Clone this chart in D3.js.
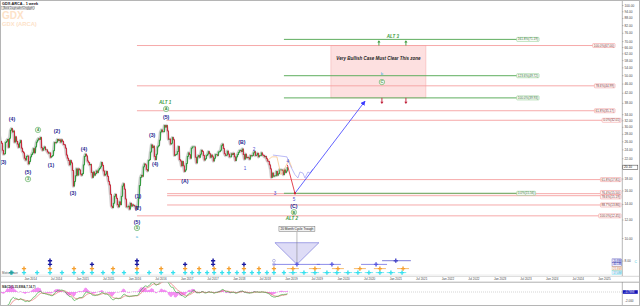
<!DOCTYPE html>
<html><head><meta charset="utf-8">
<script src="https://cdn.jsdelivr.net/npm/d3@7"></script>
<style>html,body{margin:0;padding:0;background:#fff;}svg{display:block;font-family:"Liberation Sans",Arial,sans-serif;}</style>
</head><body><svg id="c" width="640" height="306"></svg>
<script>
// ---------------- DATA ----------------
const firstWeek = "2013-01-18";
const close2013 = [43.5,42.0,42.0,41.0,39.5,38.5,37.5,37.5,38.0,37.5,36.5,35.0,31.5,28.5,29.5,29.0,27.0,25.5,27.0,27.5,
  26.0,25.5,23.8,22.9,23.0,25.7,26.0,26.5,24.5,26.8,29.0,29.5,28.5,28.8,25.8,27.2,26.0,25.3,24.5,25.6,26.2,24.3,23.5,23.2,22.0,21.6,22.4,22.5,20.8,21.3];
const close2014 = [22.3,22.8,23.2,24.2,23.2, 24.6,25.8,26.3,26.7, 26.5,27.0,24.4,23.8, 24.3,24.6,23.9,23.9, 23.4,23.1,23.2,22.2,22.4,
  22.6,23.7,25.7,25.6, 25.8,26.5,26.2,26.4, 25.8,26.4,26.0,25.2,25.1, 24.3,22.7,22.0,21.5, 20.6,21.5,21.0,19.5,16.7, 17.5,18.5,19.8,18.6, 19.8,19.6,18.8,18.6];
const close2015 = [18.9,20.6,22.4,22.9,22.5, 21.4,21.1,20.6,20.7, 19.1,18.2,19.2,18.6, 18.9,19.4,19.1,19.6, 19.9,20.2,21.1,20.5,19.4,
  18.6,18.8,19.3,18.4, 17.5,16.9,15.4,13.7,13.5, 14.1,15.1,15.4,14.8, 13.9,13.6,14.3,13.9, 15.1,16.7,17.1,16.2,14.7, 13.6,13.6,13.7,13.3, 14.1,13.7,13.9,13.8];
const close2016 = [13.7,13.7,13.3,13.6,14.8, 16.8,18.2,18.6,18.4, 20.2,20.8,20.6,19.7, 19.4,21.5,21.7,23.4,25.1, 24.4,24.8,22.4,21.7,
  22.9,24.6,24.9,26.3, 28.5,29.1,28.6,28.6,30.4, 29.9,30.4,28.8,26.5, 26.6,25.3,25.5,27.0,26.4, 22.6,22.8,22.9,23.5, 24.7,21.7,21.4,20.4, 21.3,20.4,19.3,19.6,20.9];
const close2017 = [22.4,23.2,22.8,22.0, 24.3,24.6,24.6,24.6, 22.2,21.0,22.3,22.6,22.2, 22.9,23.8,23.5,22.6, 21.6,21.9,22.6,22.9,
  23.5,23.0,22.2,22.7,22.3, 21.4,22.0,22.8,22.8, 22.6,23.4,23.5,23.8, 24.9,25.3,24.2,23.0,22.6, 22.7,23.6,22.9,22.3, 22.3,23.0,22.8,23.1, 22.3,21.5,22.3,22.8,23.3];
const close2018 = [23.7,23.8,23.5,24.1, 22.8,21.8,22.9,22.1, 22.2,22.1,21.8,22.6,22.5, 22.6,23.2,23.5,22.6, 22.7,23.1,22.3,22.6,
  22.6,23.2,22.7,22.6,22.3, 22.4,21.9,21.4,21.3, 20.6,19.8,18.2,19.0,18.4, 18.5,18.5,19.3,18.6, 18.9,19.6,19.6,19.6, 19.5,18.7,19.6,19.1,19.4, 20.1];

const priceTicks = [100,94,88,82,76,70,66,62,58,54,50,46,42,38,34,32,30,28,26,24,22,18,16,14,12,10,8];
const dateTicks = ["2014-01-01","2014-07-01","2015-01-01","2015-07-01","2016-01-01","2016-07-01","2017-01-01","2017-07-01",
  "2018-01-01","2018-07-01","2019-01-01","2019-07-01","2020-01-01","2020-07-01","2021-01-01","2021-07-01","2022-01-01",
  "2022-07-01","2023-01-01","2023-07-01","2024-01-01","2024-07-01","2025-01-01"];
const macdTickLabel = "-2.000";

const pinkLevels = [
  {label:"100.0%(67.00)", price:67.00, from:"2016-01-19"},
  {label:"78.6%(44.99)",  price:44.99, from:"2016-01-19"},
  {label:"61.8%(35.17)",  price:35.17, from:"2016-01-19"},
  {label:"0.0%(32.01)",   price:32.01, from:"2016-08-12"},
  {label:"61.8%(17.81)",  price:17.81, from:"2016-08-17"},
  {label:"76.4%(15.50)",  price:15.50, from:"2016-08-17"},
  {label:"78.6%(15.19)",  price:15.19, from:"2016-08-17"},
  {label:"88.7%(13.86)",  price:13.86, from:"2016-08-17"},
  {label:"100.0%(12.45)", price:12.45, from:"2016-01-19"}
];
const greenLevels = [
  {label:"161.8%(71.19)", price:71.19},
  {label:"123.6%(49.72)", price:49.72},
  {label:"100.0%(39.93)", price:39.93},
  {label:"0.0%(15.56)",   price:15.56}
];
const greenFrom = "2018-11-13", greenTo = "2023-05-01";

const zone = {from:"2019-10-08", to:"2021-08-03", low:39.93, high:67.00, text:"Very Bullish Case Must Clear This zone", textPrice:59.2};
const upArrows = ["2020-09-08","2021-03-16"];
const downArrows = ["2020-09-29","2021-03-16"];

const waveLabels = [
  {t:"(3)", d:"2013-06-26", p:21.2, k:"paren"},
  {t:"(4)", d:"2013-08-27", p:32.4, k:"paren"},
  {t:"(5)", d:"2013-12-17", p:19.2, k:"paren"},
  {t:"3",   d:"2013-12-17", p:17.9, k:"circle"},
  {t:"4",   d:"2014-02-25", p:29.1, k:"circle"},
  {t:"(2)", d:"2014-07-08", p:28.8, k:"paren"},
  {t:"(1)", d:"2014-05-27", p:20.6, k:"paren"},
  {t:"(4)", d:"2015-01-13", p:24.1, k:"paren"},
  {t:"(3)", d:"2014-10-28", p:15.6, k:"paren"},
  {t:"(1)", d:"2016-01-26", p:15.15, k:"paren"},
  {t:"(2)", d:"2016-01-26", p:13.45, k:"paren"},
  {t:"(5)", d:"2016-01-19", p:11.72, k:"paren"},
  {t:"5",   d:"2016-01-19", p:11.04, k:"circle"},
  {t:"a",   d:"2016-01-19", p:10.2, k:"tiny"},
  {t:"(3)", d:"2016-05-04", p:27.7, k:"paren"},
  {t:"(4)", d:"2016-05-25", p:20.8, k:"paren"},
  {t:"(5)", d:"2016-08-10", p:33.1, k:"paren"},
  {t:"A",   d:"2016-08-10", p:35.8, k:"circle"},
  {t:"ALT 1", d:"2016-08-03", p:38.3, k:"alt"},
  {t:"(A)", d:"2016-12-20", p:17.6, k:"paren"},
  {t:"(B)", d:"2018-01-23", p:25.8, k:"paren"},
  {t:"1",   d:"2018-02-13", p:20.0, k:"minor"},
  {t:"2",   d:"2018-04-17", p:24.1, k:"minor"},
  {t:"3",   d:"2018-09-11", p:15.6, k:"minor"},
  {t:"4",   d:"2018-12-10", p:21.4, k:"minor"},
  {t:"5",   d:"2019-01-22", p:14.7, k:"minor"},
  {t:"(C)", d:"2019-01-22", p:13.7, k:"paren"},
  {t:"B",   d:"2019-01-22", p:12.9, k:"circle"},
  {t:"ALT 2", d:"2019-01-08", p:12.2, k:"alt"},
  {t:"ALT 3", d:"2020-12-15", p:73.6, k:"alt"},
  {t:"b",   d:"2020-09-29", p:50.6, k:"tiny"},
  {t:"C",   d:"2020-09-29", p:46.7, k:"circle"}
];

const redPath = [{d:"2018-12-07", p:20.6}, {d:"2019-01-29", p:15.56}];
const bluePath = [{d:"2019-01-29", p:15.56}, {d:"2020-06-03", p:38.7}];
const blueForecast = [
  {d:"2018-08-28",p:22.7},{d:"2018-10-16",p:22.5},{d:"2018-12-04",p:22.3},{d:"2018-12-25",p:20.6},
  {d:"2019-01-29",p:18.7},{d:"2019-02-19",p:18.1},{d:"2019-03-05",p:19.2},{d:"2019-03-26",p:19.0},
  {d:"2019-04-09",p:18.1},{d:"2019-04-30",p:19.2},{d:"2019-05-14",p:19.0},{d:"2019-06-04",p:19.8}];
const orangeForecast = [
  {d:"2018-07-24",p:21.6},{d:"2018-08-21",p:22.3},{d:"2018-09-25",p:22.3},{d:"2018-10-23",p:18.7},
  {d:"2018-11-20",p:20.0},{d:"2018-12-18",p:21.6},{d:"2019-01-08",p:20.0}];

// cycle indicator
const cyanDots = ["2013-08-27","2013-11-19","2014-02-19","2014-05-20","2014-08-12","2014-11-04","2015-01-06","2015-03-10",
  "2015-05-26","2015-08-04","2015-10-20","2016-01-19","2016-04-13","2016-07-06","2016-09-28","2016-12-21","2017-02-08",
  "2017-03-29","2017-05-24","2017-07-12","2017-09-06","2017-10-24","2017-12-19","2018-02-06","2018-04-03","2018-05-22",
  "2018-07-17","2018-09-04","2018-11-13"];
const orangeDots = ["2013-11-19","2014-05-20","2014-11-04","2015-03-10","2015-08-04","2016-01-19","2016-07-06","2016-12-21",
  "2017-03-29","2017-07-12","2017-10-24","2018-02-06","2018-05-22","2018-09-04"];
const navyDots1 = ["2014-05-20","2015-03-10","2016-01-19","2016-12-21","2017-07-05","2018-02-06"];
const navyDots2 = ["2014-05-20","2016-01-19","2017-07-05"];
const hollowDots = ["2018-09-04"];
const cyanProj = ["2019-01-15","2019-04-02","2019-06-18","2019-09-10","2019-11-19","2020-02-04","2020-04-14","2020-06-30","2020-09-15","2020-12-01","2021-02-17"];
const orangeProj = ["2019-01-15","2019-06-18","2019-11-26","2020-04-28","2020-09-15","2021-02-24"];
const blueProj = [{a:"2018-08-28", b:"2019-07-23", m:"2019-02-12"},{a:"2019-07-01", b:"2019-12-17", m:"2019-10-15"},{a:"2020-05-06", b:"2020-11-04", m:"2020-08-19"}];
const navyProj = [{a:"2020-09-30", b:"2021-04-20", m:"2021-01-04"}];
const cycleTrough = {d:"2019-02-12", label:"20 Month Cycle Trough"};
const cycleLegend = [{t:"20.8M", row:"navy2"},{t:"40.1M", row:"navy1"},{t:"21.8M", row:"orange"},{t:"17.0M", row:"cyan"}];

// ---------------- DRAW ----------------
const svg = d3.select("#c");
const P = d3.timeParse("%Y-%m-%d");
const AX = 622, PB = 276;
const x = d3.scaleTime().domain([P("2013-06-04"), P("2025-05-07")]).range([0, AX]);
const y = d3.scaleLog().domain([7, 100]).range([274.1, 5]);

svg.append("rect").attr("width",640).attr("height",306).attr("fill","#fff");
const defs = svg.append("defs");
defs.append("clipPath").attr("id","cp").append("rect").attr("x",1).attr("y",1).attr("width",AX-1).attr("height",PB-1);
defs.append("clipPath").attr("id","cm").append("rect").attr("x",1).attr("y",282.6).attr("width",AX-1).attr("height",22.6);
defs.append("marker").attr("id","ab").attr("viewBox","0 0 10 10").attr("refX",9).attr("refY",5)
  .attr("markerWidth",6).attr("markerHeight",6).attr("orient","auto")
  .append("path").attr("d","M0,0L10,5L0,10z").attr("fill","#3b3bff");

// watermark + titles
svg.append("text").attr("x",2).attr("y",18.8).text("GDX").attr("font-size",10).attr("font-weight","bold").attr("fill","#fde2c8");
svg.append("text").attr("x",2).attr("y",25.6).text("GDX (ARCA)").attr("font-size",5.8).attr("font-weight","bold").attr("fill","#fde2c8");
svg.append("text").attr("x",2).attr("y",5.2).text("GDX:ARCA - 1 week").attr("font-size",3.8).attr("font-weight","bold").attr("fill","#111");
svg.append("rect").attr("x",1.8).attr("y",6.3).attr("width",33).attr("height",3.3).attr("fill","#fff").attr("stroke","#777").attr("stroke-width",0.3);
svg.append("text").attr("x",2.5).attr("y",8.9).text("(Bold Daytrader/Unglyph)").attr("font-size",2.8).attr("fill","#333");

const gP = svg.append("g").attr("clip-path","url(#cp)");

// pink zone
gP.append("rect").attr("x",x(P(zone.from))).attr("width",x(P(zone.to))-x(P(zone.from)))
  .attr("y",y(zone.high)).attr("height",y(zone.low)-y(zone.high))
  .attr("fill","#fde0e0").attr("stroke","#f6b3b3").attr("stroke-width",0.6);

function labelBox(g, text, xPos, yc, anchor, stroke, color){
  const t = g.append("text").attr("y",yc+1.05).attr("font-size",3.1).attr("fill",color).text(text);
  const w = t.node().getComputedTextLength();
  const x0 = anchor === "end" ? xPos - w - 2 : xPos;
  t.attr("x", x0 + 1);
  g.insert("rect","text").attr("x",x0).attr("y",yc-2).attr("width",w+2).attr("height",4)
    .attr("fill","#fff").attr("stroke",stroke).attr("stroke-width",0.5).attr("rx",0.6);
  return x0;
}

// pink fib levels (label boxes nudged apart where two levels nearly coincide)
const pinkY = pinkLevels.map(l => y(l.price));
const boxY = pinkY.slice();
for (let i = 1; i < boxY.length; i++) {
  const gap = boxY[i] - boxY[i-1];
  if (gap < 4.4) { const s = (4.4 - gap) / 2; boxY[i-1] -= s; boxY[i] += s; }
}
pinkLevels.forEach((l,i) => {
  const g = gP.append("g");
  const yy = pinkY[i];
  const right = l.price > 34 ? 615 : 621;
  const x0 = labelBox(g, l.label, right, boxY[i], "end", "#f08a8a", "#7a2a2a");
  g.insert("line",":first-child").attr("x1",x(P(l.from))).attr("x2",x0).attr("y1",yy).attr("y2",yy)
    .attr("stroke","#f5a0a0").attr("stroke-width",0.9);
});
// green fib levels
greenLevels.forEach(l => {
  const g = gP.append("g");
  const yy = y(l.price);
  const x0 = labelBox(g, l.label, x(P(greenTo)), yy, "start", "#7cc47c", "#2e6e2e");
  g.insert("line",":first-child").attr("x1",x(P(greenFrom))).attr("x2",x0).attr("y1",yy).attr("y2",yy)
    .attr("stroke","#5fae5f").attr("stroke-width",1);
});

// zone text & arrows
gP.append("text").attr("x",(x(P(zone.from))+x(P(zone.to)))/2).attr("y",y(zone.textPrice)+1.5)
  .attr("text-anchor","middle").attr("font-size",4.5).attr("font-weight","bold").attr("font-style","italic")
  .attr("fill","#222").text(zone.text);
upArrows.forEach(d => {
  const xx = x(P(d)), y0 = y(zone.high), y1 = y(71.19)+0.8;
  gP.append("line").attr("x1",xx).attr("x2",xx).attr("y1",y0).attr("y2",y1+1.5).attr("stroke","#3a9a3a").attr("stroke-width",0.9);
  gP.append("path").attr("d",`M${xx-1.6},${y1+2.2}L${xx},${y1}L${xx+1.6},${y1+2.2}Z`).attr("fill","#3a9a3a");
});
downArrows.forEach(d => {
  const xx = x(P(d)), y0 = y(zone.low), y1 = y0 + 6;
  gP.append("line").attr("x1",xx).attr("x2",xx).attr("y1",y0).attr("y2",y1-1.5).attr("stroke","#c0203a").attr("stroke-width",0.9);
  gP.append("path").attr("d",`M${xx-1.6},${y1-2.2}L${xx},${y1}L${xx+1.6},${y1-2.2}Z`).attr("fill","#c0203a");
});

// candles
const closes = [].concat(close2013, close2014, close2015, close2016, close2017, close2018);
const start = P(firstWeek);
const bars = closes.map((c,i) => ({date:d3.timeDay.offset(start, 7*i), o: i ? closes[i-1] : c, c}));
const lineP = d3.line().x(d => x(d.date)).y(d => y(d.c));
gP.append("path").attr("d",lineP(bars)).attr("fill","none").attr("stroke","#d4d4d4").attr("stroke-width",3.2).attr("stroke-linejoin","round");
gP.selectAll("rect.cd").data(bars).join("rect").attr("class","cd")
  .attr("x",d => x(d.date)-0.55).attr("width",1.1)
  .attr("y",d => y(Math.max(d.o,d.c))-0.4)
  .attr("height",d => Math.abs(y(d.o)-y(d.c))+0.8)
  .attr("fill",d => d.c >= d.o ? "#2f9a3a" : "#c8283a");

// forecasts
const lineF = d3.line().x(d => x(P(d.d))).y(d => y(d.p));
gP.append("path").attr("d",lineF(orangeForecast)).attr("fill","none").attr("stroke","#f7b56a").attr("stroke-width",0.6);
gP.append("path").attr("d",lineF(blueForecast)).attr("fill","none").attr("stroke","#8c8cf0").attr("stroke-width",0.6);
gP.append("path").attr("d",lineF(redPath)).attr("fill","none").attr("stroke","#e03040").attr("stroke-width",0.9);
gP.append("path").attr("d",lineF(bluePath)).attr("fill","none").attr("stroke","#3b3bff").attr("stroke-width",0.8).attr("marker-end","url(#ab)");
gP.append("rect").attr("x",x(P(redPath[1].d))-1).attr("y",y(redPath[1].p)-1).attr("width",2).attr("height",2).attr("fill","#d02030");

// wave labels
waveLabels.forEach(l => {
  const xx = x(P(l.d)), yy = y(l.p);
  if (l.k === "circle") {
    gP.append("circle").attr("cx",xx).attr("cy",yy).attr("r",2.7).attr("fill","#eef8ee").attr("stroke","#55aa55").attr("stroke-width",0.6);
    gP.append("text").attr("x",xx).attr("y",yy+1.4).attr("text-anchor","middle").attr("font-size",3.9).attr("font-weight","bold").attr("fill","#3a8a3a").text(l.t);
  } else {
    const st = {paren:{fs:5.2,fw:"bold",fi:"normal",c:"#24248f"}, minor:{fs:4.6,fw:"normal",fi:"normal",c:"#4a4ad0"},
      alt:{fs:4.5,fw:"bold",fi:"italic",c:"#3a9a3a"}, tiny:{fs:4.2,fw:"normal",fi:"normal",c:"#3cb4e0"}}[l.k];
    gP.append("text").attr("x",xx).attr("y",yy+st.fs*0.36).attr("text-anchor","middle").attr("font-size",st.fs)
      .attr("font-weight",st.fw).attr("font-style",st.fi).attr("fill",st.c).text(l.t);
  }
});

// cycle indicator
const rowY = {navy2:260.7, navy1:264.4, orange:268.6, cyan:272.6};
const rowC = {navy2:"#1a1aa0", navy1:"#1a1aa0", orange:"#f5a030", cyan:"#35e0ee"};
const cross = d3.symbol().type(d3.symbolCross).size(10);
function dots(arr, row){
  gP.selectAll(null).data(arr).join("path").attr("d",cross)
    .attr("transform",d => `translate(${x(P(d))},${rowY[row]})`).attr("fill",rowC[row]);
}
gP.append("line").attr("x1",1).attr("x2",AX).attr("y1",274.8).attr("y2",274.8).attr("stroke","#e6e6e6").attr("stroke-width",0.5);
dots(cyanDots,"cyan"); dots(orangeDots,"orange"); dots(navyDots1,"navy1"); dots(navyDots2,"navy2");
hollowDots.forEach(d => ["navy1","navy2"].forEach(r => gP.append("circle").attr("cx",x(P(d))).attr("cy",rowY[r]).attr("r",1.4)
  .attr("fill","none").attr("stroke","#6060c0").attr("stroke-width",0.4)));
// trough triangle
const tx = x(P(cycleTrough.d));
gP.append("path").attr("d",`M${tx-22},242.7L${tx+22},242.7L${tx},${rowY.navy1}Z`).attr("fill","#dedcf6").attr("stroke","#6e6ed8").attr("stroke-width",0.6);
gP.append("line").attr("x1",tx).attr("x2",tx).attr("y1",232).attr("y2",rowY.navy1).attr("stroke","#777").attr("stroke-width",0.5);
const lb = gP.append("g");
const lt = lb.append("text").attr("x",tx).attr("y",230.2).attr("text-anchor","middle").attr("font-size",3.2).attr("fill","#222").text(cycleTrough.label);
const lw = lt.node().getComputedTextLength();
lb.insert("rect","text").attr("x",tx-lw/2-1.5).attr("y",226.3).attr("width",lw+3).attr("height",5.2).attr("fill","#f2f2f2").attr("stroke","#555").attr("stroke-width",0.4);
// projected segments
function seg(arr, row, half){
  arr.forEach(d => {
    const xx = x(P(d));
    gP.append("line").attr("x1",xx-half).attr("x2",xx+half).attr("y1",rowY[row]).attr("y2",rowY[row]).attr("stroke",rowC[row]).attr("stroke-width",0.7);
    gP.append("path").attr("d",cross).attr("transform",`translate(${xx},${rowY[row]})`).attr("fill",rowC[row]);
  });
}
seg(cyanProj,"cyan",4.2); seg(orangeProj,"orange",6);
function rng(arr, row, col){
  arr.forEach(s => {
    gP.append("line").attr("x1",x(P(s.a))).attr("x2",x(P(s.b))).attr("y1",rowY[row]).attr("y2",rowY[row]).attr("stroke",col).attr("stroke-width",0.7);
    gP.append("path").attr("d",cross).attr("transform",`translate(${x(P(s.m))},${rowY[row]})`).attr("fill",col);
  });
}
rng(blueProj,"navy1","#5a5ae0"); rng(navyProj,"navy2","#4848c8");
gP.append("text").attr("x",2).attr("y",273.6).attr("font-size",2.9).attr("fill","#555").text("MotiveWave");
gP.append("path").attr("d",cross).attr("transform","translate(11,272.6)").attr("fill","#20a0a0");
cycleLegend.forEach(l => {
  const g = gP.append("g");
  const t = g.append("text").attr("x",621).attr("y",rowY[l.row]+1).attr("text-anchor","end").attr("font-size",2.8).attr("fill",rowC[l.row]==="#35e0ee"?"#20b8c8":rowC[l.row]).text(l.t);
  const w = t.node().getComputedTextLength();
  g.insert("rect","text").attr("x",620.6-w-0.8).attr("y",rowY[l.row]-1.8).attr("width",w+1.6).attr("height",3.6).attr("fill","#eef").attr("stroke",rowC[l.row]).attr("stroke-width",0.3);
});

// price axis
const ya = svg.append("g").attr("transform",`translate(${AX},0)`)
  .call(d3.axisRight(y).tickValues(priceTicks).tickSize(1.5).tickPadding(1).tickFormat(d3.format(".2f")));
ya.select(".domain").remove();
ya.selectAll("text").attr("font-size",3.2).attr("fill","#444").attr("font-family","Liberation Sans");
ya.selectAll("line").attr("stroke","#666").attr("stroke-width",0.4);
svg.append("line").attr("x1",AX+0.3).attr("x2",AX+0.3).attr("y1",0).attr("y2",PB).attr("stroke","#888").attr("stroke-width",0.6);
const last = closes[closes.length-1];
svg.append("rect").attr("x",AX+0.8).attr("y",y(last)-2.2).attr("width",15).attr("height",4.4).attr("fill","#fff").attr("stroke","#333").attr("stroke-width",0.5);
svg.append("text").attr("x",AX+2).attr("y",y(last)+1.1).attr("font-size",3.2).attr("fill","#111").text(d3.format(".2f")(last));
svg.append("text").attr("x",634.5).attr("y",263.2).attr("font-size",3.3).attr("fill","#35c8e0").text("C");

// date axis
svg.append("line").attr("x1",0).attr("x2",640).attr("y1",PB+0.3).attr("y2",PB+0.3).attr("stroke","#bbb").attr("stroke-width",0.6);
svg.append("line").attr("x1",0).attr("x2",640).attr("y1",282.2).attr("y2",282.2).attr("stroke","#999").attr("stroke-width",0.8);
const xa = svg.append("g").attr("transform",`translate(0,277.6)`)
  .call(d3.axisBottom(x).tickValues(dateTicks.map(P)).tickSize(0).tickPadding(0).tickFormat(d3.timeFormat("%b %Y")));
xa.select(".domain").remove();
xa.selectAll("text").attr("font-size",3).attr("fill","#444").attr("font-family","Liberation Sans");

// MACD panel
function ema(arr, n){ const k = 2/(n+1); const out=[]; arr.forEach((v,i)=> out.push(i ? v*k + out[i-1]*(1-k) : v)); return out; }
const e5 = ema(closes,5), e35 = ema(closes,35);
const macd = e5.map((v,i) => v - e35[i]);
const sig = ema(macd,7);
const mData = bars.map((b,i) => ({date:b.date, m:macd[i], s:sig[i], h:macd[i]-sig[i]}));
const ym = d3.scaleLinear().domain([-4.5,0]).range([301,292]);
const yh = d3.scaleLinear().domain([-2,0]).range([298,292]);
const gM = svg.append("g").attr("clip-path","url(#cm)");
gM.append("line").attr("x1",1).attr("x2",AX).attr("y1",ym(0)).attr("y2",ym(0)).attr("stroke","#aaa").attr("stroke-width",0.5).attr("stroke-dasharray","1,1");
gM.selectAll("rect.h").data(mData).join("rect").attr("class","h")
  .attr("x",d => x(d.date)-0.55).attr("width",1.1)
  .attr("y",d => Math.min(yh(0), yh(d.h))).attr("height",d => Math.abs(yh(d.h)-yh(0)))
  .attr("fill","#f060ee").attr("opacity",0.7);
gM.append("path").attr("d",d3.line().x(d=>x(d.date)).y(d=>ym(d.s))(mData)).attr("fill","none").attr("stroke","#e86a6a").attr("stroke-width",0.7);
gM.append("path").attr("d",d3.line().x(d=>x(d.date)).y(d=>ym(d.m))(mData)).attr("fill","none").attr("stroke","#3aa83a").attr("stroke-width",0.7);
svg.append("text").attr("x",2).attr("y",287.6).attr("font-size",3).attr("font-weight","bold").attr("fill","#333").text("MACD(5,35,EMA,7,14,7)");
svg.append("line").attr("x1",AX+0.3).attr("x2",AX+0.3).attr("y1",282).attr("y2",306).attr("stroke","#888").attr("stroke-width",0.6);
svg.append("rect").attr("x",AX+0.8).attr("y",ym(0)-1.8).attr("width",15).attr("height",3.6).attr("fill","#1515b8");
svg.append("text").attr("x",AX+2).attr("y",ym(0)+1).attr("font-size",2.8).attr("fill","#fff").text(d3.format(".4f")(macd[macd.length-1]));
svg.append("text").attr("x",AX+3).attr("y",302).attr("font-size",3).attr("fill","#444").text(macdTickLabel);

// frame
svg.append("rect").attr("x",0.5).attr("y",0.5).attr("width",639).attr("height",305).attr("fill","none").attr("stroke","#b5b5b5").attr("stroke-width",1);
</script></body></html>
